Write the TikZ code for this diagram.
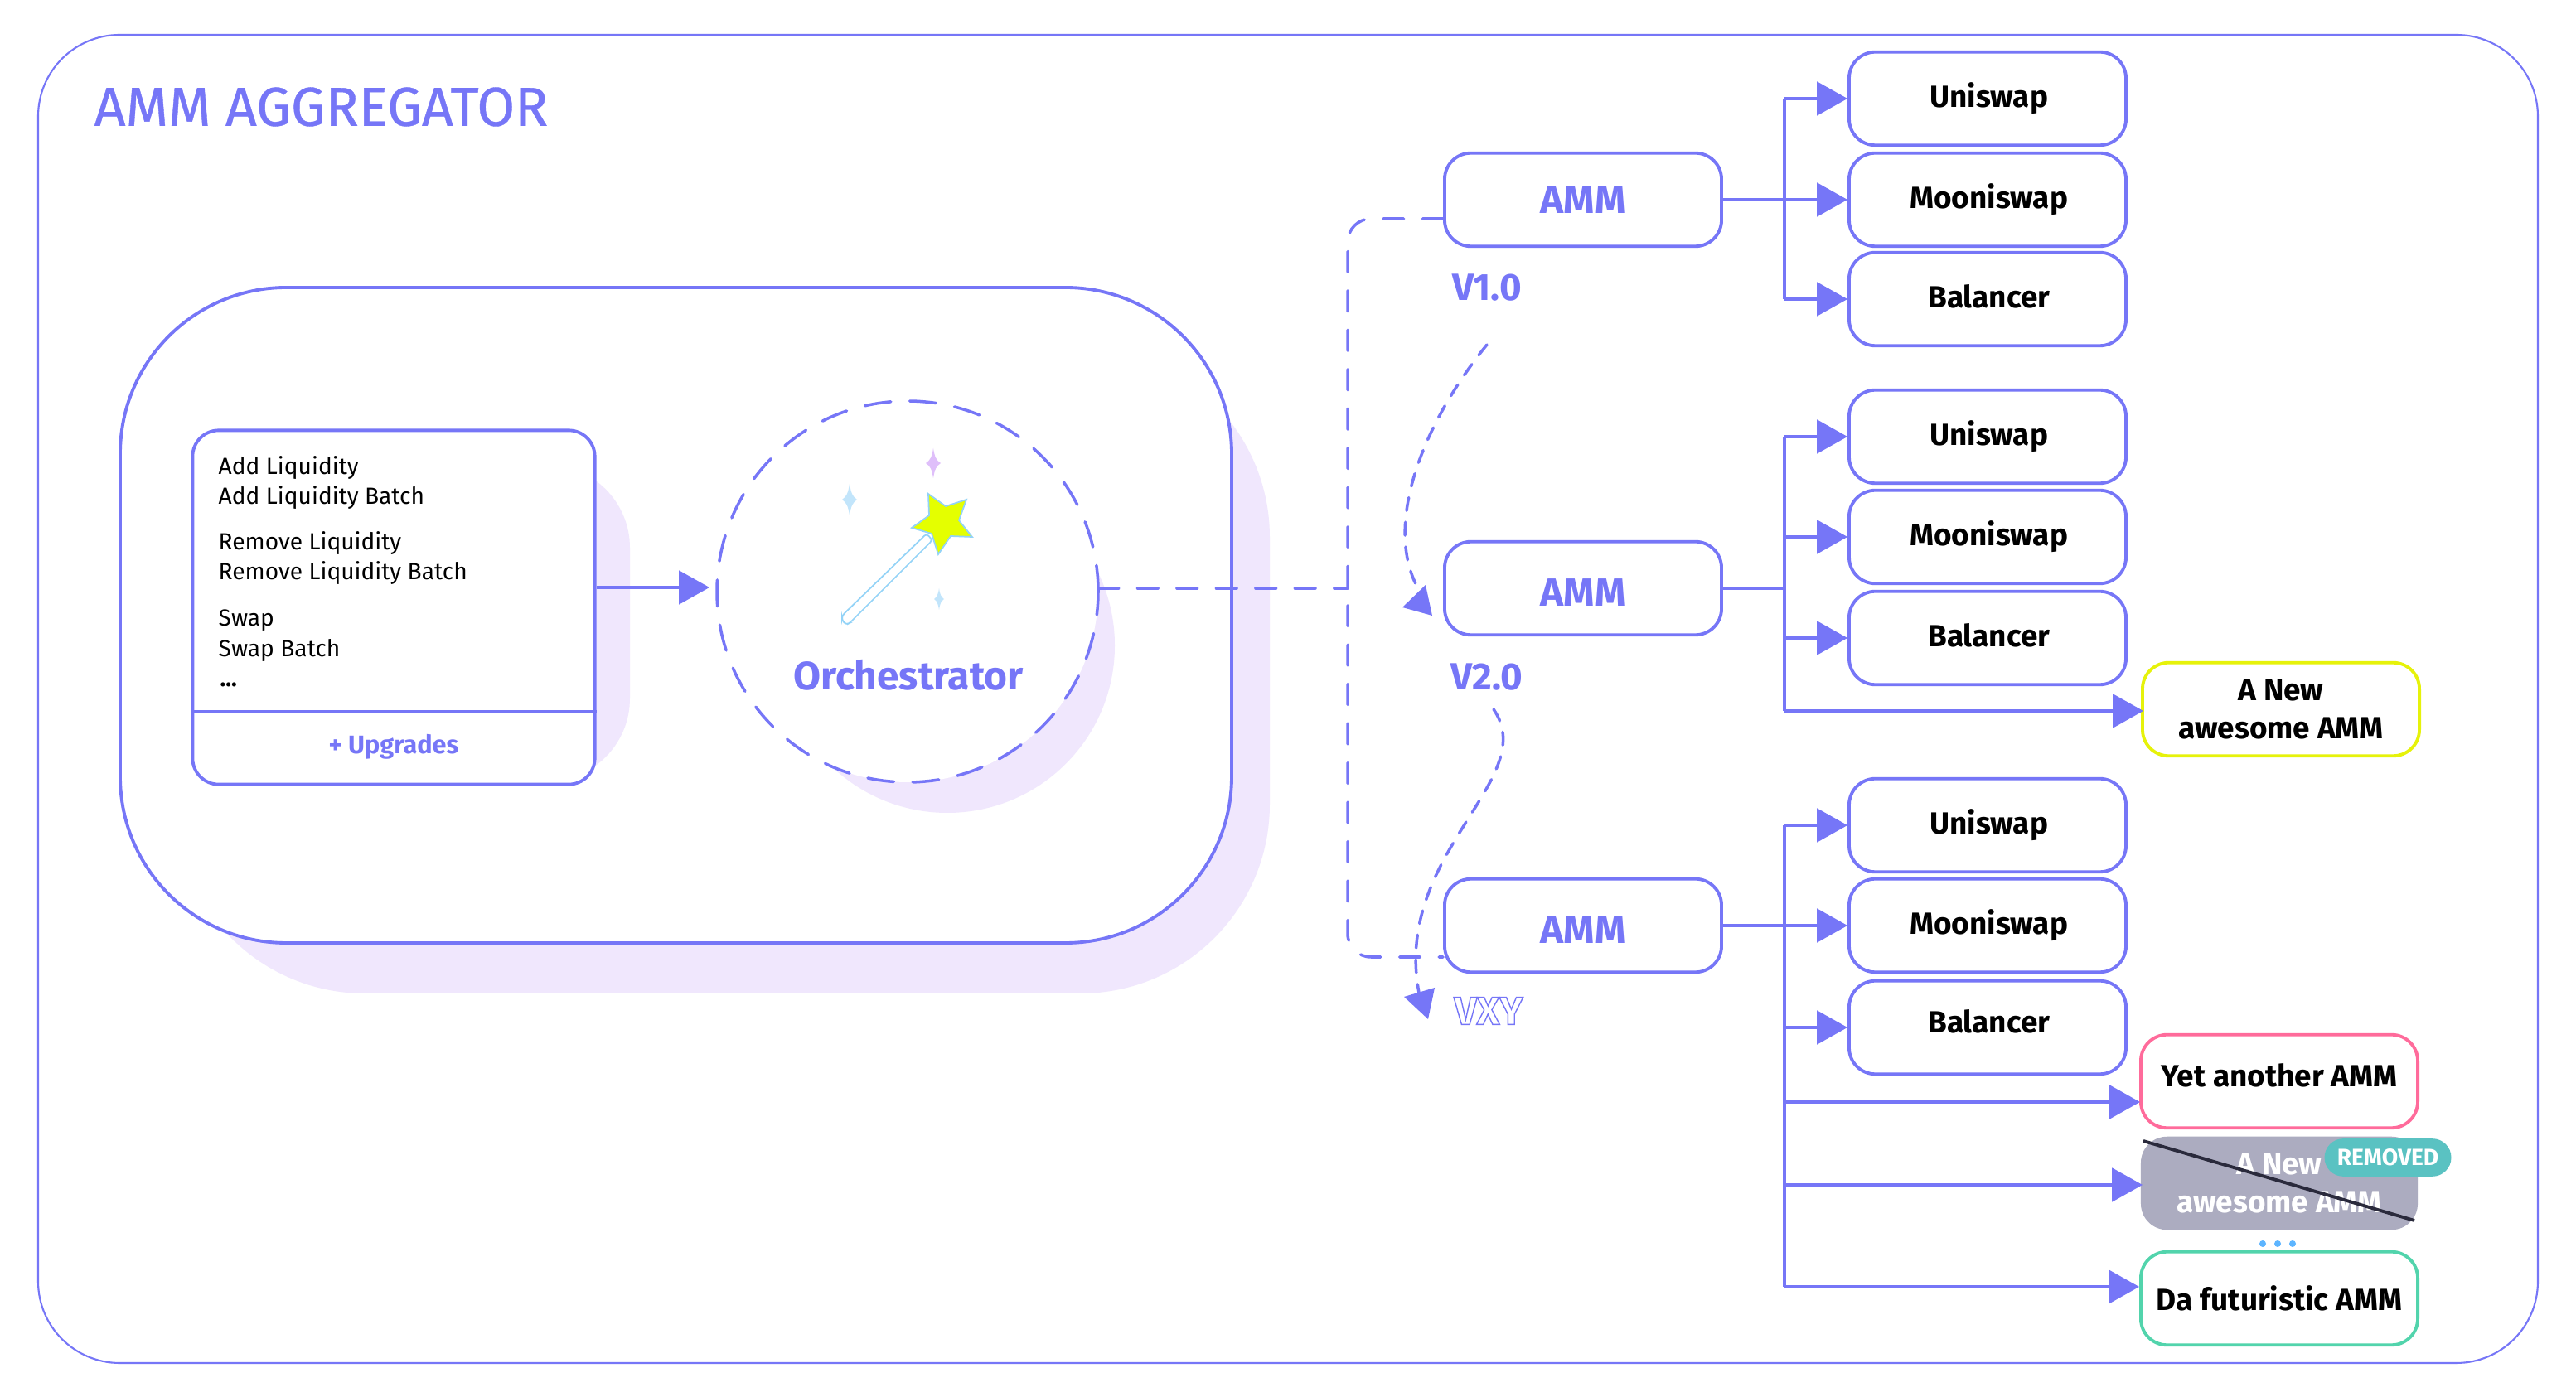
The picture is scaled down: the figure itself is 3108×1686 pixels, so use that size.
\documentclass[tikz,border=0pt]{standalone}
\usepackage{fontspec}
\setmainfont{Fira Sans}
\newfontfamily\mediumfont[FakeBold=0.6]{Fira Sans}
\usetikzlibrary{arrows.meta, calc}
\definecolor{ammviolet}{HTML}{7676F7}
\definecolor{ammshadow}{HTML}{F0E7FD}
\definecolor{ammyellow}{HTML}{E6F20A}
\definecolor{ammpink}{HTML}{FF6B9B}
\definecolor{ammgreen}{HTML}{52D4AC}
\definecolor{ammgrey}{HTML}{ACACC0}
\definecolor{ammteal}{HTML}{5AC2C2}
\definecolor{ammdark}{HTML}{2A2A3C}
\definecolor{wandblue}{HTML}{93D3F7}
\definecolor{wandlime}{HTML}{E4FF00}
\definecolor{sparkblue}{HTML}{C2E5FB}
\definecolor{sparkpurple}{HTML}{DFBFFA}
\definecolor{dotblue}{HTML}{5DB5FF}
\tikzset{
  violetbox/.style={draw=ammviolet, line width=1.1pt, fill=white, rounded corners=9pt},
  ammbox/.style={violetbox, minimum width=95pt, minimum height=32pt, inner sep=0pt,
    text=ammviolet, font=\fontsize{13.5}{15}\selectfont\bfseries},
  dexbox/.style={violetbox, minimum width=95pt, minimum height=32pt, inner sep=0pt,
    text=black, font=\fontsize{10.5}{13}\selectfont\bfseries},
  newbox/.style={dexbox, align=center},
  flow/.style={draw=ammviolet, line width=1.1pt, -{Triangle[length=10.5pt,width=11.5pt]}},
  busline/.style={draw=ammviolet, line width=1.1pt},
  dashflow/.style={draw=ammviolet, line width=1pt, line cap=round,
    dash pattern=on 7pt off 6.5pt},
  version/.style={text=ammviolet, font=\fontsize{13}{15}\selectfont\bfseries},
  opstext/.style={anchor=west, inner sep=0pt, font=\fontsize{8}{10}\selectfont}
}
\begin{document}
\begin{tikzpicture}[x=0.01cm, y=-0.01cm]
  \useasboundingbox (0,0) rectangle (3108,1686);
  \fill[white] (0,0) rectangle (3108,1686);

  \draw[ammviolet, line width=0.6pt, rounded corners=28pt] (46,42) rectangle (3062,1645);
  \node[text=ammviolet, anchor=west, inner sep=0pt, font=\fontsize{18.8}{22}\selectfont\mediumfont] (title)
    at (113,129) {AMM AGGREGATOR};

  % left block with its shadows
  \fill[ammshadow, rounded corners=65pt] (212,420) rectangle (1532,1199);
  \draw[violetbox, rounded corners=57pt] (145,347) rectangle (1486,1138);
  \fill[ammshadow, rounded corners=28.5pt] (400,561) rectangle (760,943);
  \fill[ammshadow] (1143,779) circle (202);

  \node[violetbox, minimum width=138pt, minimum height=121.5pt, inner sep=0pt] (opsbox)
    at (475,733) {};
  \draw[ammviolet, line width=1.1pt] (opsbox.west |- 0,859) -- (opsbox.east |- 0,859);
  \foreach \nm/\lbl/\y in {opsa/Add Liquidity/565, opsb/Add Liquidity Batch/601,
      opsc/Remove Liquidity/656, opsd/Remove Liquidity Batch/692,
      opse/Swap/749, opsf/Swap Batch/785} {
    \node[opstext] (\nm) at (263,\y) {\lbl};
  }
  \node[opstext, font=\fontsize{8}{10}\selectfont\bfseries] (opsg) at (265,826) {...};
  \node[text=ammviolet, inner sep=0pt, font=\fontsize{8.7}{10}\selectfont\bfseries] (upgrades)
    at (475,901) {+ Upgrades};

  \node[circle, draw=ammviolet, line width=1pt, fill=white, line cap=round,
    dash pattern=on 9pt off 6.5pt, minimum size=460*0.01cm, inner sep=0pt] (orch)
    at (1095,714) {};
  \node[text=ammviolet, inner sep=0pt, font=\fontsize{13.6}{15}\selectfont\bfseries] (orchlabel)
    at (1096,815) {Orchestrator};
  \coordinate (orchin) at (856,709);
  \coordinate (orchout) at (1325,710);
  \draw[flow] (opsbox.east |- orchin) -- (orchin);

  % wand
  \draw[wandblue, line width=0.5pt, fill=white, rounded corners=1pt]
    (1016,743) -- (1118,644) -- (1125,652) -- (1025,752) -- (1021,754) -- (1016,749) -- cycle;
  \draw[wandblue, line width=0.5pt, fill=wandlime]
    (1120,596) -- (1141,611) -- (1166,603) -- (1157,628) -- (1173,648) -- (1147,647)
    -- (1132,669) -- (1124,644) -- (1100,637) -- (1121,622) -- cycle;
  \foreach \sx/\sy/\sw/\sh/\sc in {1126/559/9/18/sparkpurple, 1025/603/9/19/sparkblue,
      1133/723/6/13/sparkblue} {
    \fill[\sc] (\sx,{\sy-\sh}) .. controls ({\sx+0.2*\sw},{\sy-0.4*\sh}) and ({\sx+0.4*\sw},{\sy-0.2*\sh}) .. ({\sx+\sw},\sy)
      .. controls ({\sx+0.4*\sw},{\sy+0.2*\sh}) and ({\sx+0.2*\sw},{\sy+0.4*\sh}) .. (\sx,{\sy+\sh})
      .. controls ({\sx-0.2*\sw},{\sy+0.4*\sh}) and ({\sx-0.4*\sw},{\sy+0.2*\sh}) .. ({\sx-\sw},\sy)
      .. controls ({\sx-0.4*\sw},{\sy-0.2*\sh}) and ({\sx-0.2*\sw},{\sy-0.4*\sh}) .. (\sx,{\sy-\sh});
  }

  % amm versions
  \foreach \nm/\y/\th in {amma/241/9.5pt, ammb/710/12.2pt, ammc/1117/12.2pt} {
    \node[ammbox, text height=\th, text depth=0pt] (\nm) at (1910,\y) {AMM};
  }
  \node[version] (va) at (1794,347) {V1.0};
  \node[version] (vb) at (1794,817) {V2.0};
  \node[version, inner sep=0pt, font=\fontsize{13.5}{15}\selectfont\bfseries] (vc) at (1796,1220)
    {\special{pdf:code q 1 Tr 0.4 w}VXY\special{pdf:code Q}};

  \draw[dashflow] (orchout) -- (1626,710);
  \draw[dashflow, rounded corners=8pt] (amma.west |- 0,264) -- (1626,264) -- (1626,1155)
    -- (ammc.west |- 0,1155);
  \coordinate (curvea) at (1794,416);
  \coordinate (curveb) at (1802,856);
  \coordinate (tipa) at (1728,743);
  \coordinate (tipb) at (1723,1230);
  \draw[dashflow, dash pattern=on 4.5pt off 4pt] (curvea) .. controls (1710,520) and (1670,640) .. (1712,712);
  \draw[dashflow, dash pattern=on 4.5pt off 4pt] (curveb) .. controls (1860,940) and (1680,1030) .. (1712,1198);
  \fill[ammviolet] (tipa) -- (1692,733) -- (1720,706) -- cycle;
  \fill[ammviolet] (tipb) -- (1694,1203) -- (1731,1192) -- cycle;

  % targets
  \foreach \nm/\lbl/\y/\dy in {dexa/Uniswap/119/0pt, dexb/Mooniswap/241/0pt, dexc/Balancer/361/2pt,
      dexd/Uniswap/527/0pt, dexe/Mooniswap/648/2.2pt, dexf/Balancer/770/2pt,
      dexg/Uniswap/996/0pt, dexh/Mooniswap/1117/0pt, dexi/Balancer/1240/4pt} {
    \node[dexbox] (\nm) at (2398,\y) {\hspace*{1pt}\raisebox{\dy}{\lbl}};
  }
  \node[newbox, draw=ammyellow] (newa) at (2752,856) {A New\\awesome AMM};
  \node[dexbox, draw=ammpink, text depth=4pt] (yetamm) at (2750,1305) {Yet another AMM};
  \node[newbox, draw=none, fill=ammgrey, text=white] (oldamm) at (2750,1428)
    {A New\\awesome AMM};
  \node[dexbox, draw=ammgreen] (futamm) at (2750,1567) {Da futuristic AMM};
  \node[fill=ammteal, rounded corners=6.5pt, minimum width=43.5pt, minimum height=13pt, inner sep=0pt,
    text=white, font=\fontsize{8}{9}\selectfont\bfseries] (removed) at (2881,1397) {REMOVED};
  \draw[ammdark, line width=1.1pt] (2586,1377) -- (2913,1473);
  \foreach \dx in {2730,2748,2766} {
    \fill[dotblue] (\dx,1501) circle (4);
  }

  % buses
  \coordinate (busa) at (2153,241);
  \coordinate (busb) at (2153,710);
  \coordinate (busc) at (2153,1117);
  \coordinate (yetin) at (2582,1330);
  \coordinate (oldin) at (2585,1430);
  \coordinate (futin) at (2581,1553);
  \coordinate (newin) at (2586,858);
  \draw[busline] (amma.east) -- (busa);
  \draw[busline] (ammb.east) -- (busb);
  \draw[busline] (ammc.east) -- (busc);
  \draw[busline] (busa |- dexa.west) -- (busa |- dexc.west);
  \draw[busline] (busb |- dexd.west) -- (busb |- newin);
  \draw[busline] (busc |- dexg.west) -- (busc |- futin);
  \foreach \nm in {dexa,dexb,dexc} { \draw[flow] (busa |- \nm.west) -- (\nm.west); }
  \foreach \nm in {dexd,dexe,dexf} { \draw[flow] (busb |- \nm.west) -- (\nm.west); }
  \foreach \nm in {dexg,dexh,dexi} { \draw[flow] (busc |- \nm.west) -- (\nm.west); }
  \draw[flow] (busb |- newin) -- (newin);
  \draw[flow] (busc |- yetin) -- (yetin);
  \draw[flow] (busc |- oldin) -- (oldin);
  \draw[flow] (busc |- futin) -- (futin);
\end{tikzpicture}
\end{document}
